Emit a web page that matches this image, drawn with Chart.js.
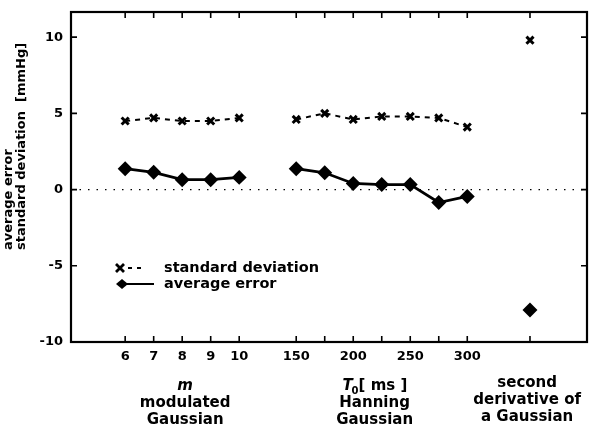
<!DOCTYPE html>
<html>
<head>
<meta charset="utf-8">
<script src="https://cdn.jsdelivr.net/npm/chart.js@4"></script>
<style>
  html, body { margin: 0; padding: 0; background: #fff; overflow: hidden; }
  #wrap { width: 589px; height: 436px; }
  canvas { display: block; }
</style>
</head>
<body>
<div id="wrap"><canvas id="errChart" width="589" height="436"></canvas></div>
<script>
// positions along the x axis (index slots), tick labels, series values
const xPos = [0, 1, 2, 3, 4, 6, 7, 8, 9, 10, 11, 12, 14.2];
const tickLabels = ['6', '7', '8', '9', '10', '150', '', '200', '', '250', '', '300', ''];
const stdDev = [4.5, 4.7, 4.5, 4.5, 4.7, 4.6, 5.0, 4.6, 4.8, 4.8, 4.7, 4.1, 9.8];
const avgError = [1.37, 1.13, 0.65, 0.65, 0.8, 1.37, 1.1, 0.4, 0.33, 0.33, -0.85, -0.45, -7.9];
const yTicks = [-10, -5, 0, 5, 10];

const FAM = '"DejaVu Sans", Verdana, sans-serif';

// build points with a null wherever a group ends so the lines break
function toPoints(vals) {
  const pts = [];
  vals.forEach((v, i) => {
    if (i > 0 && xPos[i] - xPos[i - 1] > 1) pts.push({ x: xPos[i] - 1, y: null });
    pts.push({ x: xPos[i], y: v });
  });
  return pts;
}

const framePlugin = {
  id: 'frame',
  beforeDatasetsDraw(chart) {
    const { ctx, chartArea: a, scales } = chart;
    // dotted zero line
    const y0 = scales.y.getPixelForValue(0);
    ctx.save();
    ctx.strokeStyle = '#000';
    ctx.lineWidth = 1.3;
    ctx.setLineDash([1.5, 7]);
    ctx.beginPath();
    ctx.moveTo(a.left, y0);
    ctx.lineTo(a.right, y0);
    ctx.stroke();
    ctx.restore();
  },
  afterDraw(chart) {
    const { ctx, chartArea: a, scales } = chart;
    ctx.save();
    ctx.strokeStyle = '#000';
    ctx.lineWidth = 2.2;
    ctx.strokeRect(a.left, a.top, a.right - a.left, a.bottom - a.top);
    ctx.lineWidth = 1.6;
    ctx.beginPath();
    yTicks.forEach(v => {
      const y = scales.y.getPixelForValue(v);
      ctx.moveTo(a.left, y); ctx.lineTo(a.left + 6, y);
      ctx.moveTo(a.right, y); ctx.lineTo(a.right - 6, y);
    });
    xPos.forEach(v => {
      const x = scales.x.getPixelForValue(v);
      ctx.moveTo(x, a.bottom); ctx.lineTo(x, a.bottom - 6);
      ctx.moveTo(x, a.top); ctx.lineTo(x, a.top + 6);
    });
    ctx.stroke();

    // y axis title, two rotated lines
    ctx.fillStyle = '#000';
    ctx.font = 'bold 13px ' + FAM;
    ctx.textAlign = 'left';
    ctx.textBaseline = 'middle';
    ctx.save();
    ctx.translate(9, 250);
    ctx.rotate(-Math.PI / 2);
    ctx.fillText('average error', 0, 0);
    ctx.fillText('standard deviation  [mmHg]', 0, 13);
    ctx.restore();

    // legend
    const l1 = 268, l2 = 284;
    ctx.lineWidth = 2;
    ctx.setLineDash([4, 5]);
    ctx.beginPath(); ctx.moveTo(128, l1); ctx.lineTo(144, l1); ctx.stroke();
    ctx.setLineDash([]);
    ctx.lineWidth = 2.8;
    ctx.beginPath();
    ctx.moveTo(116, l1 - 4); ctx.lineTo(124, l1 + 4);
    ctx.moveTo(116, l1 + 4); ctx.lineTo(124, l1 - 4);
    ctx.stroke();
    ctx.lineWidth = 2.2;
    ctx.beginPath(); ctx.moveTo(118, l2); ctx.lineTo(154, l2); ctx.stroke();
    ctx.beginPath();
    ctx.moveTo(122, l2 - 5); ctx.lineTo(128, l2); ctx.lineTo(122, l2 + 5); ctx.lineTo(116, l2);
    ctx.closePath(); ctx.fill();
    ctx.font = 'bold 14.5px ' + FAM;
    ctx.fillText('standard deviation', 164, l1);
    ctx.fillText('average error', 164, l2);

    // group captions under the x axis
    const capFont = 'bold 15px ' + FAM;
    const capItal = 'italic bold 15px ' + FAM;
    ctx.textAlign = 'center';
    const gx1 = scales.x.getPixelForValue(2);
    const gx2 = scales.x.getPixelForValue(8.75);
    const gx3 = scales.x.getPixelForValue(14.1);
    ctx.font = capItal;
    ctx.fillText('m', gx1 + 3, 386);
    ctx.font = capFont;
    ctx.fillText('modulated', gx1 + 3, 403);
    ctx.fillText('Gaussian', gx1 + 3, 420);
    // T0 [ ms ]
    ctx.textAlign = 'left';
    const tStart = gx2 - 32;
    ctx.font = capItal;
    ctx.fillText('T', tStart, 386);
    ctx.font = 'bold 10px ' + FAM;
    ctx.fillText('0', tStart + 9, 391);
    ctx.font = capFont;
    ctx.fillText('[ ms ]', tStart + 16, 386);
    ctx.textAlign = 'center';
    ctx.fillText('Hanning', gx2, 403);
    ctx.fillText('Gaussian', gx2, 420);
    ctx.fillText('second', gx3, 383);
    ctx.fillText('derivative of', gx3, 400);
    ctx.fillText('a Gaussian', gx3, 417);
    ctx.restore();
  }
};

new Chart(document.getElementById('errChart').getContext('2d'), {
  type: 'line',
  data: {
    datasets: [{
      label: 'standard deviation',
      data: toPoints(stdDev),
      borderColor: '#000',
      borderWidth: 2,
      borderDash: [5, 5],
      pointStyle: 'crossRot',
      pointRadius: 5,
      pointBorderWidth: 3,
      pointBorderColor: '#000',
      spanGaps: false,
      tension: 0
    }, {
      label: 'average error',
      data: toPoints(avgError),
      borderColor: '#000',
      borderWidth: 2.8,
      pointStyle: 'rectRot',
      pointRadius: 5.5,
      pointBackgroundColor: '#000',
      pointBorderColor: '#000',
      spanGaps: false,
      tension: 0
    }]
  },
  options: {
    responsive: false,
    animation: false,
    layout: { autoPadding: false, padding: { top: 12, right: 2, left: 0, bottom: 0 } },
    plugins: { legend: { display: false }, tooltip: { enabled: false } },
    scales: {
      x: {
        type: 'linear',
        min: -1.9,
        max: 16.2,
        grid: { display: false, drawTicks: false },
        border: { display: false },
        afterBuildTicks: scale => { scale.ticks = xPos.map(v => ({ value: v })); },
        afterFit: scale => {
          scale.height = 94;
          scale.paddingLeft = 0;
          scale.paddingRight = 0;
        },
        ticks: {
          autoSkip: false,
          maxRotation: 0,
          padding: 7,
          color: '#000',
          font: { family: FAM, size: 13, weight: 'bold' },
          callback: v => {
            const i = xPos.indexOf(v);
            return i >= 0 ? tickLabels[i] : '';
          }
        }
      },
      y: {
        min: -10,
        max: 11.65,
        grid: { display: false, drawTicks: false },
        border: { display: false },
        afterBuildTicks: scale => { scale.ticks = yTicks.map(v => ({ value: v })); },
        afterFit: scale => {
          scale.width = 71;
          scale.paddingTop = 0;
          scale.paddingBottom = 0;
        },
        ticks: {
          padding: 8,
          color: '#000',
          font: { family: FAM, size: 13, weight: 'bold' }
        }
      }
    }
  },
  plugins: [framePlugin]
});
</script>
</body>
</html>
